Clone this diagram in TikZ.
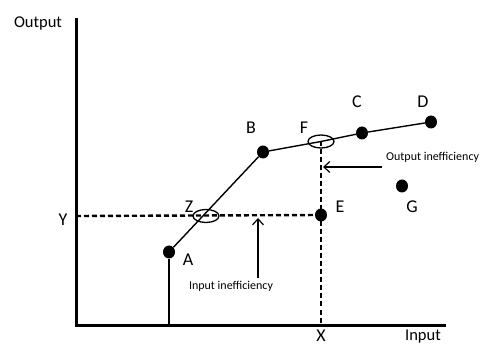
\documentclass[tikz,border=0pt]{standalone}
\usepackage{fontspec}
\setmainfont{Carlito}
\usetikzlibrary{arrows.meta,shapes.geometric,calc}
\begin{document}
\begin{tikzpicture}[x=1pt,y=-1pt,
  axis/.style={line width=3pt},
  frontier/.style={line width=1.4pt},
  guide/.style={line width=2.4pt, dash pattern=on 5pt off 3pt},
  dot/.style={ellipse, fill=black, minimum width=12pt, minimum height=13pt, inner sep=0pt},
  ring/.style={ellipse, draw, line width=1.3pt, minimum width=26pt, minimum height=13pt, inner sep=0pt},
  lbl/.style={font=\fontsize{18}{20}\selectfont, inner sep=0pt},
  axlbl/.style={font=\fontsize{16.5}{18}\selectfont, inner sep=0pt},
  note/.style={font=\fontsize{12}{14}\selectfont, inner sep=0pt},
  pointer/.style={line width=1.2pt, -{Straight Barb[length=6pt,width=11pt]}}]
\useasboundingbox (0,0) rectangle (483,345);

% axes
\coordinate (origin) at (76,325);
\coordinate (ytop) at (76,18);
\coordinate (xend) at (446,325);
\draw[axis] (ytop) -- (origin) -- (xend);
\node[axlbl] (outlbl) at (38,23) {Output};
\node[axlbl] (inlbl) at (423,337) {Input};

% production points
\node[dot] (A) at (169,252) {};
\node[dot] (B) at (263,152) {};
\node[dot] (C) at (362,133) {};
\node[dot] (D) at (431,122) {};
\node[dot] (E) at (321,215) {};
\node[dot] (G) at (402,186) {};

% frontier
\coordinate (Fc) at (321,141.5);
\draw[frontier] (A) -- (B) -- (Fc) -- (C) -- (D);

% reference lines
\coordinate (Yc) at (76,216);
\coordinate (Xc) at (321,325);
\coordinate (Ac) at (169,325);
\draw[guide] (Yc) -- (E);
\draw[guide] (Fc) -- (Xc);
\draw[line width=1.2pt] (A) -- (Ac);

% efficiency rings
\node[ring] (Z) at (206,216) {};
\node[ring] (F) at (Fc) {};

% inefficiency pointers
\coordinate (inTail) at (258,278);
\coordinate (inHead) at (258,218);
\draw[pointer] (inTail) -- (inHead);
\coordinate (outTail) at (382,167);
\coordinate (outHead) at (323,167);
\draw[pointer] (outTail) -- (outHead);
\node[note] (inNote) at (231,286) {Input inefficiency};
\node[note, anchor=west] (outNote) at (386,157) {Output inefficiency};

% point labels
\node[lbl] at (188,260) {A};
\node[lbl] at (251,128) {B};
\node[lbl] at (357,102) {C};
\node[lbl] at (423,102) {D};
\node[lbl] at (340,207) {E};
\node[lbl] at (304,128) {F};
\node[lbl] at (412,207) {G};
\node[lbl] at (189,207) {Z};
\node[lbl] at (63,220) {Y};
\node[lbl] at (321,336) {X};
\end{tikzpicture}
\end{document}
